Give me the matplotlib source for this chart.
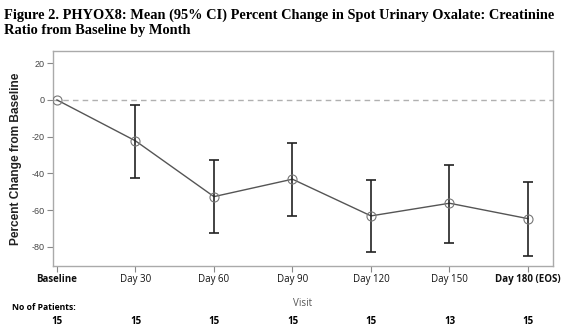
import matplotlib
matplotlib.use("Agg")
import matplotlib.pyplot as plt

visits = ["Baseline", "Day 30", "Day 60", "Day 90", "Day 120", "Day 150", "Day 180 (EOS)"]
mean_change = [0.0, -22.3, -52.7, -43.2, -63.2, -56.3, -64.7]
ci_low = [0.0, -42.3, -72.3, -63.0, -83.0, -77.8, -84.8]
ci_high = [0.0, -2.6, -32.7, -23.3, -43.4, -35.3, -44.9]
n_patients = [15, 15, 15, 15, 15, 13, 15]
yticks = [20, 0, -20, -40, -60, -80]

SANS = "Open Sans"
ARIAL = "Liberation Sans"

x = list(range(len(visits)))
err_lo = [m - lo for m, lo in zip(mean_change, ci_low)]
err_hi = [hi - m for m, hi in zip(mean_change, ci_high)]

fig = plt.figure(figsize=(5.67, 3.35), dpi=100)
ax = fig.add_axes([0.0935, 0.206, 0.882, 0.642])

ax.axhline(0, color="#b0b0b0", linestyle=(0, (4, 3)), linewidth=1.0, zorder=1)
ax.plot(x, mean_change, color="#555555", linewidth=1.0, zorder=2)
ax.errorbar(x[1:], mean_change[1:], yerr=[err_lo[1:], err_hi[1:]], fmt="none",
            ecolor="#222222", elinewidth=1.2, capsize=3.4, capthick=1.2, zorder=3)
ax.plot(x, mean_change, linestyle="none", marker="o", markersize=6.5,
        markerfacecolor="none", markeredgecolor="#777777", markeredgewidth=0.8, zorder=4)

ax.set_xlim(-0.05, 6.32)
ax.set_ylim(-90.5, 26.7)
ax.set_yticks(yticks)
ax.set_yticklabels([str(v) for v in yticks], fontsize=6.5, family=ARIAL)
ax.set_xticks(x)
ax.set_xticklabels(visits, fontsize=7, family=SANS)
for i, lab in enumerate(ax.get_xticklabels()):
    if i in (0, len(visits) - 1):
        lab.set_fontweight("bold")
for s in ax.spines.values():
    s.set_color("#aaaaaa")
    s.set_linewidth(1.0)
ax.tick_params(colors="#888888", length=4, width=0.8)
ax.tick_params(axis="x", labelcolor="#111111", pad=2)
ax.tick_params(axis="y", labelcolor="#444444", pad=2)

ax.set_xlabel("Visit", fontsize=7, color="#555555", family=SANS, labelpad=9)
ax.set_ylabel("Percent Change from Baseline", fontsize=8.6, fontweight="bold",
              color="#222222", family=ARIAL, labelpad=7)

fig.text(0.007, 1 - 23 / 335, "Figure 2. PHYOX8: Mean (95% CI) Percent Change in Spot Urinary Oxalate: Creatinine\nRatio from Baseline by Month",
         fontsize=10.4, fontweight="bold", family="Liberation Serif", va="center", ha="left",
         linespacing=1.2)

fig.text(12 / 567, 1 - 308 / 335, "No of Patients:", fontsize=6.2, fontweight="bold",
         family=SANS, va="center", ha="left")
for xi, n in zip(x, n_patients):
    px = ax.transData.transform((xi, 0))[0] / fig.bbox.width
    fig.text(px, 1 - 321 / 335, str(n), fontsize=7, fontweight="bold",
             family=SANS, va="center", ha="center")

fig.savefig("out.png", dpi=100)
